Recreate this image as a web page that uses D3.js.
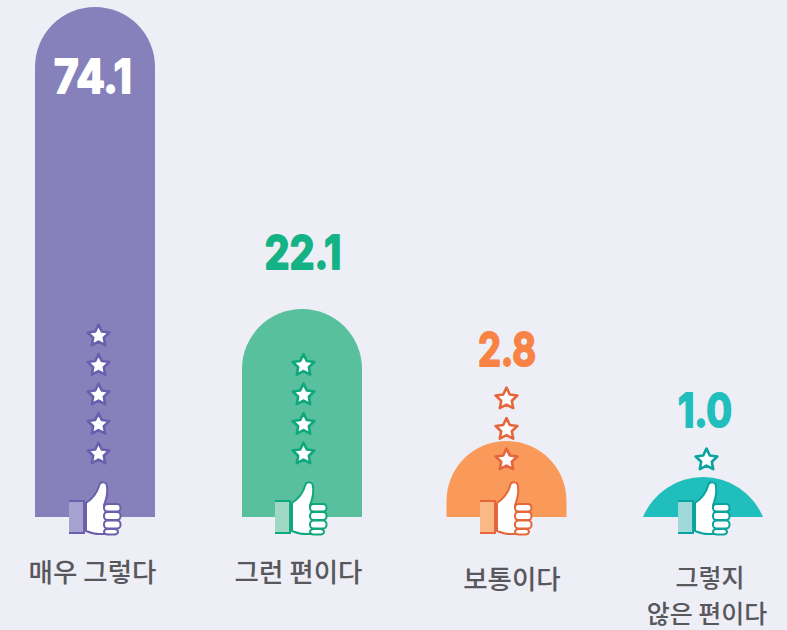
<!DOCTYPE html>
<html>
<head>
<meta charset="utf-8">
<script src="https://cdn.jsdelivr.net/npm/d3@7"></script>
<style>
    html, body { margin: 0; padding: 0; background: #edeef6; }
    svg { display: block; }
</style>
</head>
<body>
<div id="chart"></div>
<script>
const categories = ['매우 그렇다', '그런 편이다', '보통이다', '그렇지 않은 편이다']
const values = [74.1, 22.1, 2.8, 1.0]
const valueLabels = ['74.1', '22.1', '2.8', '1.0']
const starCounts = [5, 4, 3, 1]
const labelLines = [['매우 그렇다'], ['그런 편이다'], ['보통이다'], ['그렇지', '않은 편이다']]

const barColors = ['#8681bb', '#58c09c', '#fa9a5a', '#20bebc']
const lineColors = ['#6a5fac', '#0fa77c', '#e5663a', '#0aa39e']
const cuffColors = ['#a6a2d0', '#9fd8c4', '#fbb887', '#9fd9da']
const valueColors = ['#ffffff', '#14b284', '#f98245', '#20bebc']

const width = 787
const height = 630
const barWidth = 120
const baseline = 517

const svg = d3.select('#chart').append('svg').attr('width', width).attr('height', height)
svg.append('rect').attr('width', width).attr('height', height).attr('fill', '#edeef6')

// the picture is not linear in its values, so the scale is piecewise
const y = d3.scaleLinear().domain([0, 1, 2.8, 22.1, 74.1]).range([baseline, 477, 441, 309, 7])
const x = d3.scaleOrdinal().domain(categories).range([95, 302, 506.5, 703])

const valueBaseline = [93, 269, 366, 427]
const valueX = [93, 303, 507, 705]
const valueWidth = [78, 77, 58, 54]
const labelX = [[92.5], [298.5], [512], [710, 707]]
const labelY = [[582], [582], [589], [586.5, 622.5]]
const labelSize = [26.5, 26.5, 26.5, 25]
const starX = [98.5, 303.5, 506.5, 706.5]
const starBottom = [454, 454, 460, 460]
const thumbX = [69, 275, 480, 678]

function barPath(cx, top) {
    const r = barWidth / 2
    const h = baseline - top
    const p = d3.path()
    p.moveTo(cx - r, baseline)
    if (h >= r) {
        p.lineTo(cx - r, top + r)
        p.arc(cx, top + r, r, Math.PI, 0)
    } else {
        // low bars are only a slice of a bigger circle
        const big = (r * r + h * h) / (2 * h)
        const a = Math.asin(r / big)
        p.arc(cx, top + big, big, -Math.PI / 2 - a, -Math.PI / 2 + a)
    }
    p.lineTo(cx + r, baseline)
    p.closePath()
    return p.toString()
}

const starShape = d3.lineRadial()
    .angle((d) => d * Math.PI / 5)
    .radius((d) => (d % 2 ? 5.6 : 11.4))
    .curve(d3.curveLinearClosed)

const groups = svg.selectAll('g.bar').data(categories).join('g').attr('class', 'bar')

groups.append('path')
    .attr('d', (d, i) => barPath(x(d), y(values[i])))
    .attr('fill', (d, i) => barColors[i])

groups.each(function(d, i) {
    const g = d3.select(this)

    const stepY = i === 2 ? 30.5 : 29.5
    g.selectAll('path.star').data(d3.range(starCounts[i])).join('path')
        .attr('class', 'star')
        .attr('d', starShape(d3.range(10)))
        .attr('transform', (k) => `translate(${starX[i]},${starBottom[i] - k * stepY})`)
        .attr('fill', '#fff')
        .attr('stroke', lineColors[i])
        .attr('stroke-width', 2.6)
        .attr('stroke-linejoin', 'round')

    const t = g.append('g').attr('transform', `translate(${thumbX[i]},482)`)
    t.append('rect').attr('x', 0).attr('y', 19).attr('width', 15).attr('height', 32).attr('fill', cuffColors[i])
    t.append('path').attr('d', 'M0,19 H15 V51 H0')
        .attr('fill', 'none').attr('stroke', lineColors[i]).attr('stroke-width', 2)
    t.append('path')
        .attr('d', 'M17,21 C23,17 28,11 30,4 C31,-1 38,-1 38,5 C39,12 37,18 35,23 L42,52 L30,52 C25,52 20,50 17,49 Z')
        .attr('fill', '#fff').attr('stroke', lineColors[i]).attr('stroke-width', 2).attr('stroke-linejoin', 'round')
    t.selectAll('rect.finger').data([[22, 7.5], [30, 8], [38.5, 8], [47, 5.5]]).join('rect')
        .attr('class', 'finger')
        .attr('x', 35).attr('y', (f) => f[0])
        .attr('width', (f, k) => (k === 3 ? 14 : 16.5)).attr('height', (f) => f[1])
        .attr('rx', 3.5)
        .attr('fill', '#fff').attr('stroke', lineColors[i]).attr('stroke-width', 2)

    g.append('text')
        .attr('x', valueX[i]).attr('y', valueBaseline[i])
        .attr('text-anchor', 'middle')
        .attr('textLength', valueWidth[i]).attr('lengthAdjust', 'spacingAndGlyphs')
        .attr('font-family', 'Inter')
        .attr('font-weight', 700).attr('font-size', 46)
        .attr('fill', valueColors[i])
        .attr('stroke', valueColors[i]).attr('stroke-width', 2).attr('stroke-linejoin', 'round')
        .text(valueLabels[i])

    g.selectAll('text.label').data(labelLines[i]).join('text')
        .attr('class', 'label')
        .attr('x', (l, k) => labelX[i][k]).attr('y', (l, k) => labelY[i][k])
        .attr('text-anchor', 'middle')
        .attr('font-family', '"Noto Sans CJK KR"')
        .attr('font-size', labelSize[i]).attr('font-weight', 500)
        .attr('fill', '#58585c')
        .text((l) => l)
})
</script>
</body>
</html>
